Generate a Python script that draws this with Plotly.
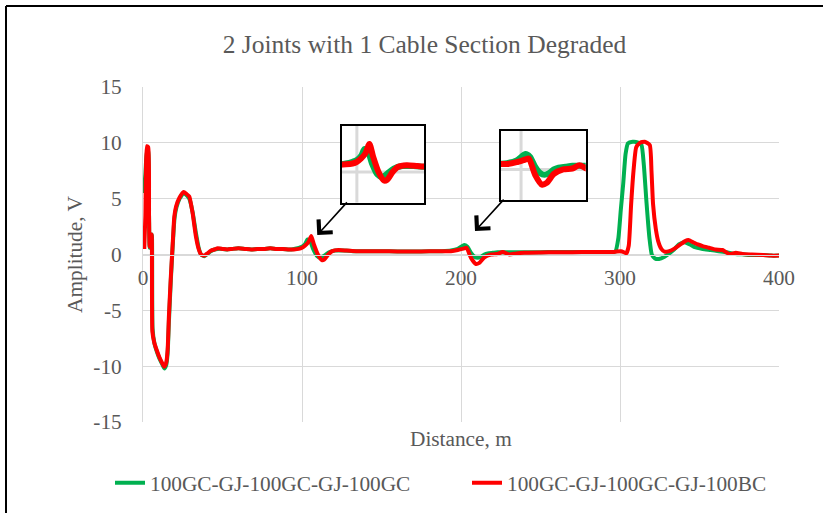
import plotly.graph_objects as go

# ---------------- data ----------------
series_names = ["100GC-GJ-100GC-GJ-100GC", "100GC-GJ-100GC-GJ-100BC"]

green_dist = [0.5, 1.5, 2.5, 3.3, 3.8, 4.2, 5.0, 5.6, 6.0, 7.1, 8.7, 10.3, 12, 13.4, 14.6, 15.5,
              16.3, 17.5, 18.7, 19.8, 21, 23, 25.5, 27.5, 29.1, 31.2, 33.3, 35, 36.5, 38.6, 40.5,
              42.8, 45, 47, 50, 53, 56, 60, 64, 68, 72, 76, 80, 84, 88, 92, 95, 98, 100, 102,
              103.5, 105, 107, 109.5, 111.5, 114, 117, 121, 126, 132, 140, 150, 160, 170, 180,
              188, 193.7, 198, 202, 204, 206.3, 208.5, 210.5, 212.6, 214.7, 216.8, 220, 223, 227,
              235, 245, 255, 265, 275, 285, 292, 297, 299, 300.5, 302, 303.5, 305, 308, 311,
              313.5, 315, 316.7, 318.5, 320, 322, 324.5, 328, 331, 334, 337, 340.5, 344, 347,
              352, 357, 362, 367, 372.5, 378, 383, 390, 395, 400]
green_amp = [5.5, 7.2, 9.3, 9.2, 3.5, 0.6, 1.1, 1.8, -6.6, -7.9, -8.7, -9.3, -9.8, -10.2, -9.9, -8.8,
             -6.0, -2.3, 0.8, 3.2, 4.2, 5.0, 5.5, 5.3, 5.0, 3.8, 1.9, 0.6, 0.0, -0.15, 0.05,
             0.3, 0.45, 0.5, 0.5, 0.45, 0.5, 0.55, 0.5, 0.45, 0.5, 0.5, 0.55, 0.5, 0.5, 0.45, 0.5, 0.6, 0.7, 0.95,
             1.35, 1.25, 0.5, -0.15, -0.3, -0.1, 0.2, 0.35, 0.35, 0.3, 0.3, 0.3, 0.27, 0.27, 0.28,
             0.3, 0.35, 0.5, 0.85, 0.7, 0.15, -0.2, -0.3, -0.2, 0.0, 0.1, 0.15, 0.2, 0.2,
             0.2, 0.2, 0.22, 0.22, 0.22, 0.22, 0.23, 0.25, 1.5, 4.0, 6.3, 9.0, 9.95, 10.1, 10.05,
             9.8, 8.0, 4.6, 1.5, 0.0, -0.35, -0.4, -0.2, 0.1, 0.45, 0.9, 1.1, 0.9, 0.65,
             0.5, 0.4, 0.3, 0.2, 0.05, 0.0, -0.05, -0.05, -0.1, -0.1]

red_dist = [0.8, 1.5, 2.5, 3.3, 3.8, 4.2, 5.0, 5.5, 5.9, 7.1, 8.7, 10.3, 12, 13.4, 14.6, 15.5,
            16.3, 17.5, 18.7, 19.7, 20.8, 23, 25.6, 27.5, 29.1, 31.2, 33.3, 35, 36.5, 38.6, 40.5,
            42.8, 45, 47, 50, 53, 56, 60, 64, 68, 72, 76, 80, 84, 88, 92, 95, 98, 100, 102,
            104, 105.8, 107.5, 110, 112.5, 114, 116.5, 119, 123, 128, 134, 140, 150, 160, 170,
            180, 188, 193.7, 198, 202, 203.5, 206.3, 209.4, 211.5, 214.7, 218.9, 223, 226.2,
            230.4, 235, 239.8, 250, 260.8, 270, 281.8, 290, 296.4, 300.6, 302.5, 304, 305.5, 307,
            308.5, 310.2, 312.5, 315.5, 318.7, 319.8, 320.8, 322.5, 324, 326, 328, 331, 334.5,
            338, 341, 343, 346, 349, 352, 356, 360, 364.5, 368.7, 372.8, 377, 383, 390, 395, 400]
red_amp = [0.5, 3.5, 9.7, 9.6, 3.5, 0.7, 1.3, 1.8, -6.9, -7.9, -8.6, -9.2, -9.7, -10.05, -9.7, -8.5,
           -5.5, -2.0, 1.0, 3.4, 4.3, 5.1, 5.6, 5.4, 5.2, 3.7, 1.6, 0.5, 0.0, -0.1, 0.1,
           0.35, 0.45, 0.55, 0.5, 0.45, 0.5, 0.55, 0.5, 0.45, 0.5, 0.5, 0.55, 0.5, 0.5, 0.45, 0.45, 0.5, 0.6, 0.8,
           1.1, 1.65, 0.9, 0.0, -0.5, -0.45, 0.0, 0.3, 0.4, 0.35, 0.3, 0.3, 0.3, 0.27, 0.27,
           0.28, 0.3, 0.3, 0.4, 0.55, 0.6, -0.3, -0.85, -0.75, -0.25, 0.0, 0.05, 0.23,
           0.0, 0.1, 0.15, 0.18, 0.2, 0.2, 0.23, 0.22, 0.23, 0.3, 0.2, 0.1, 0.8, 4.5,
           7.5, 9.6, 10.0, 10.1, 9.8, 7.5, 4.5, 2.3, 1.2, 0.5, 0.25, 0.3, 0.55,
           0.9, 1.2, 1.3, 1.1, 0.9, 0.75, 0.6, 0.45, 0.4, 0.05, 0.15, 0.05, 0.0, -0.05, -0.1, -0.1]

x_tick_vals = [0, 100, 200, 300, 400]
x_tick_text = ["0", "100", "200", "300", "400"]
y_tick_vals = [-15, -10, -5, 0, 5, 10, 15]
y_tick_text = ["-15", "-10", "-5", "0", "5", "10", "15"]

# zoom windows shown in the two insets (with the gridline each one shows)
inset1_xrange = [93, 131]
inset1_yrange = [-1.8, 2.7]
inset1_grid = (100, 0)
inset2_xrange = [191, 229]
inset2_yrange = [-1.7, 2.15]
inset2_grid = (200, 0)

# ---------------- styling / layout ----------------
GREEN = "#00B050"
RED = "#FF0000"
GRID = "#D9D9D9"
TXT = "#595959"
FONT = "Liberation Serif, Times New Roman, serif"
FS = 21.3

W, H = 826, 516
ML, MR, MT, MB = 143, 47, 87, 94
PW, PH = W - ML - MR, H - MT - MB


def px_x(p):
    return (p - ML) / PW


def px_y(p):
    return (H - MB - p) / PH


fig = go.Figure()

# main traces
fig.add_trace(go.Scatter(x=green_dist, y=green_amp, mode="lines", name=series_names[0],
                         line=dict(color=GREEN, width=4, shape="spline", smoothing=0.5)))
fig.add_trace(go.Scatter(x=red_dist, y=red_amp, mode="lines", name=series_names[1],
                         line=dict(color=RED, width=4, shape="spline", smoothing=0.5)))

# inset traces
for xa, ya in (("x2", "y2"), ("x3", "y3")):
    fig.add_trace(go.Scatter(x=green_dist, y=green_amp, mode="lines", showlegend=False,
                             line=dict(color=GREEN, width=6, shape="spline", smoothing=0.7),
                             xaxis=xa, yaxis=ya, hoverinfo="skip"))
    fig.add_trace(go.Scatter(x=red_dist, y=red_amp, mode="lines", showlegend=False,
                             line=dict(color=RED, width=6, shape="spline", smoothing=0.7),
                             xaxis=xa, yaxis=ya, hoverinfo="skip"))

tickfont = dict(family=FONT, size=FS, color=TXT)
inset_axis = dict(showgrid=False, zeroline=False, showticklabels=False, ticks="",
                  showline=True, mirror=True, linecolor="black", linewidth=2)

fig.update_layout(
    width=W, height=H,
    margin=dict(l=ML, r=MR, t=MT, b=MB),
    paper_bgcolor="white", plot_bgcolor="white",
    title=dict(text="2 Joints with 1 Cable Section Degraded", x=424.5 / W, xref="container",
               xanchor="center", y=1 - 44 / H, yref="container", yanchor="middle",
               font=dict(family=FONT, size=25.5, color=TXT)),
    xaxis=dict(range=[0, 400], tickvals=x_tick_vals, ticktext=x_tick_text, showgrid=True,
               gridcolor=GRID, gridwidth=1, zeroline=False, anchor="free", position=0.5,
               showline=True, linecolor=GRID, linewidth=1, ticks="", tickfont=tickfont,
               ticklabelstandoff=4),
    yaxis=dict(range=[-15, 15], tickvals=y_tick_vals, ticktext=y_tick_text, showgrid=True,
               gridcolor=GRID, gridwidth=1, zeroline=False, showline=True, linecolor=GRID,
               linewidth=1, ticks="", tickfont=tickfont, ticklabelstandoff=16,
               title=dict(text="Amplitude, V", font=dict(family=FONT, size=FS, color=TXT), standoff=4)),
    xaxis2=dict(domain=[px_x(341.7), px_x(424)], range=inset1_xrange, anchor="y2", **inset_axis),
    yaxis2=dict(domain=[px_y(202.7), px_y(126)], range=inset1_yrange, anchor="x2", **inset_axis),
    xaxis3=dict(domain=[px_x(501), px_x(585.7)], range=inset2_xrange, anchor="y3", **inset_axis),
    yaxis3=dict(domain=[px_y(200), px_y(130.7)], range=inset2_yrange, anchor="x3", **inset_axis),
    legend=dict(orientation="h", x=px_x(110), xanchor="left", y=px_y(483), yanchor="middle",
                font=dict(family=FONT, size=FS, color=TXT), entrywidth=312,
                bgcolor="rgba(0,0,0,0)"),
    showlegend=True,
)

shapes = []
# inset backgrounds and their own gridlines (drawn between gridlines and traces of each inset)
for xa, ya, xr, yr, (gx, gy) in (("x2", "y2", inset1_xrange, inset1_yrange, inset1_grid),
                                 ("x3", "y3", inset2_xrange, inset2_yrange, inset2_grid)):
    shapes.append(dict(type="rect", xref=xa, yref=ya, x0=xr[0], x1=xr[1], y0=yr[0], y1=yr[1],
                       fillcolor="white", line=dict(width=0), layer="between"))
    shapes.append(dict(type="line", xref=xa, yref=ya, x0=gx, x1=gx, y0=yr[0], y1=yr[1],
                       line=dict(color=GRID, width=3), layer="between"))
    shapes.append(dict(type="line", xref=xa, yref=ya, x0=xr[0], x1=xr[1], y0=gy, y1=gy,
                       line=dict(color=GRID, width=3), layer="between"))
# outer chart frame: only its top and left edges are inside the picture
shapes.append(dict(type="line", xref="paper", yref="paper", x0=px_x(6), x1=px_x(823),
                   y0=px_y(6), y1=px_y(6), line=dict(color="black", width=2), layer="above"))
shapes.append(dict(type="line", xref="paper", yref="paper", x0=px_x(6), x1=px_x(6),
                   y0=px_y(6), y1=px_y(513), line=dict(color="black", width=2), layer="above"))
fig.update_layout(shapes=shapes)

annotations = [
    dict(text="Distance, m", xref="paper", yref="paper", x=0.5, y=px_y(439), showarrow=False,
         xanchor="center", yanchor="middle", font=dict(family=FONT, size=FS, color=TXT)),
    dict(text="", x=109.6, y=1.74, ax=129.1, ay=4.8, xref="x", yref="y", axref="x", ayref="y",
         showarrow=True, arrowhead=4, arrowsize=2.3, arrowwidth=1.6, arrowcolor="black"),
    dict(text="", x=208.8, y=2.1, ax=227.7, ay=5.05, xref="x", yref="y", axref="x", ayref="y",
         showarrow=True, arrowhead=4, arrowsize=2.3, arrowwidth=1.6, arrowcolor="black"),
]
fig.update_layout(annotations=annotations)

fig.write_html("out.html", config={"displayModeBar": False},
               post_script="document.body.style.margin='0';document.body.style.overflow='hidden';")
